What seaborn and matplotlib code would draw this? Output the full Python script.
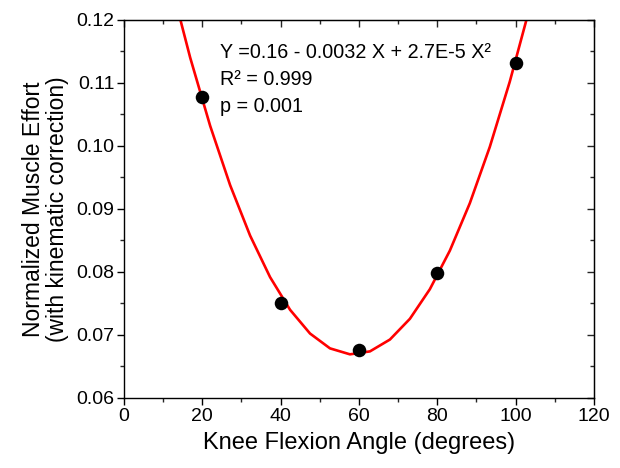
import numpy as np
import pandas as pd
import matplotlib
matplotlib.use("Agg")
import matplotlib.pyplot as plt
from matplotlib.ticker import MultipleLocator
import seaborn as sns

# knee flexion angle vs normalized muscle effort
angles = [20, 40, 60, 80, 100]
effort = [0.1078, 0.0750, 0.0676, 0.0798, 0.1132]

eq_text = "Y =0.16 - 0.0032 X + 2.7E-5 X\u00b2"
r2_text = "R\u00b2 = 0.999"
p_text = "p = 0.001"

df = pd.DataFrame({"angle": angles, "effort": effort})

# quadratic fit, drawn as a coarse polyline like the original software does
coef = np.polyfit(df["angle"], df["effort"], 2)
x_fit = np.arange(11.8, 108, 5.1)
fit = pd.DataFrame({"angle": x_fit, "effort": np.polyval(coef, x_fit)})

sns.set_style("ticks")
plt.rcParams["font.family"] = ["Liberation Sans", "DejaVu Sans"]
plt.rcParams["text.color"] = "black"
plt.rcParams["axes.labelcolor"] = "black"

fig = plt.figure(figsize=(6.2, 4.68), dpi=100)
ax = fig.add_axes([0.2, 0.1496, 0.758, 0.8077])

sns.lineplot(data=fit, x="angle", y="effort", color="red", linewidth=1.9,
             ax=ax, zorder=2)
sns.scatterplot(data=df, x="angle", y="effort", color="black", s=95,
                edgecolor="black", linewidth=0, ax=ax, zorder=3)

ax.set_xlim(0, 120)
ax.set_ylim(0.06, 0.12)
ax.xaxis.set_major_locator(MultipleLocator(20))
ax.xaxis.set_minor_locator(MultipleLocator(10))
ax.yaxis.set_major_locator(MultipleLocator(0.01))
ax.yaxis.set_minor_locator(MultipleLocator(0.005))
ax.set_yticklabels([f"{v:.2f}" for v in ax.get_yticks()])

ax.tick_params(which="major", direction="out", length=5, width=1,
               labelsize=14, colors="black", pad=2)
ax.tick_params(which="minor", direction="out", length=3, width=1)

# mirrored ticks on top/right, pointing inwards
top = ax.secondary_xaxis("top")
top.xaxis.set_major_locator(MultipleLocator(20))
top.xaxis.set_minor_locator(MultipleLocator(10))
top.tick_params(which="both", direction="in", labeltop=False, width=1)
top.tick_params(which="major", length=5)
top.tick_params(which="minor", length=3)
right = ax.secondary_yaxis("right")
right.yaxis.set_major_locator(MultipleLocator(0.01))
right.yaxis.set_minor_locator(MultipleLocator(0.005))
right.tick_params(which="both", direction="in", labelright=False, width=1)
right.tick_params(which="major", length=5)
right.tick_params(which="minor", length=3)

for sp in ax.spines.values():
    sp.set_linewidth(1.0)
    sp.set_color("black")

ax.set_xlabel("Knee Flexion Angle (degrees)", fontsize=17, labelpad=5)
ax.set_ylabel("Normalized Muscle Effort\n(with kinematic correction)",
              fontsize=16.5, labelpad=5, linespacing=1.05)

ax.text(0.204, 0.899, eq_text, transform=ax.transAxes, fontsize=14.2,
        va="baseline")
ax.text(0.204, 0.828, r2_text, transform=ax.transAxes, fontsize=14.2,
        va="baseline")
ax.text(0.204, 0.757, p_text, transform=ax.transAxes, fontsize=14.2,
        va="baseline")

fig.savefig("out.png", dpi=100)
